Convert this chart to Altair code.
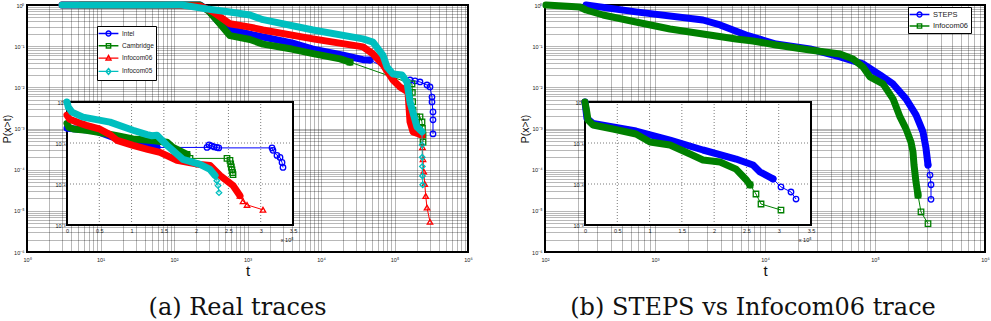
import altair as alt
import pandas as pd

# ---------------------------------------------------------------------------
# Panel (a): CCDF of inter-contact times for four real traces
# ---------------------------------------------------------------------------
A_SERIES = ["Intel", "Cambridge", "Infocom06", "Infocom05"]
A_COLORS = ["#0000ff", "#008000", "#ff0000", "#00bfbf"]
A_MARKERS = ["circle", "square", "triangle-up", "diamond"]

# log-log view: dense part of each curve ("band") and its sparse tail
intel_band_t = [3, 60, 226, 300, 400, 578, 1000, 1625, 4000, 7786, 20000, 37250, 46400]
intel_band_p = [1, 1, 1, 0.72, 0.40, 0.25, 0.20, 0.167, 0.12, 0.085, 0.06, 0.047, 0.046]
intel_tail_t = [46400, 162600, 190100, 222300, 276800, 304000, 323600, 323600, 334000, 334000, 334000]
intel_tail_p = [0.046, 0.0151, 0.0143, 0.0135, 0.0114, 0.0102, 0.0058, 0.00442, 0.00253, 0.00162, 0.00074]

cam_band_t = [5.3, 60, 226, 300, 385, 578, 1081, 1625, 4000, 7786, 18150, 24800]
cam_band_p = [1, 1, 1, 0.7, 0.42, 0.18, 0.145, 0.112, 0.085, 0.066, 0.049, 0.041]
cam_tail_t = [24800, 173000, 175000, 176500, 178600, 178600, 200000, 222300, 236600, 240000, 244300, 244300]
cam_tail_p = [0.041, 0.0121, 0.0075, 0.0045, 0.0028, 0.00191, 0.00191, 0.00191, 0.00145, 0.001, 0.0007, 0.00047]

i06_band_t = [3, 60, 226, 340, 578, 1081, 1625, 7786, 37250, 50940, 69800, 95400, 118900, 152700,
              162600, 178600, 236600]
i06_band_p = [1, 1, 0.95, 0.68, 0.35, 0.29, 0.247, 0.15, 0.096, 0.0647, 0.035, 0.0151, 0.0102, 0.0077,
              0.00145, 0.00083, 0.0007]
i06_tail_t = [236600, 240000, 244300, 250000, 258000, 266000, 276800, 304000]
i06_tail_p = [0.0007, 0.00035, 0.00018, 9e-5, 4.5e-5, 2.3e-5, 1.2e-5, 5.4e-6]

i05_band_t = [3, 128, 226, 281, 578, 1081, 1625, 7786, 37250, 50940, 69800, 79100, 95400, 126500,
              147900, 162600, 202400, 236600]
i05_band_p = [1, 1, 0.85, 0.8, 0.676, 0.572, 0.44, 0.247, 0.15, 0.126, 0.06, 0.0313, 0.0211, 0.02,
              0.0135, 0.0044, 0.00109, 0.00083]
i05_tail_t = [236600, 237500, 238500, 239500, 240500, 242000]
i05_tail_p = [0.00083, 0.0004, 0.0002, 0.00012, 7e-5, 4.3e-5]

# inset: same CCDFs on a linear time axis (x 10^5)
intel_in_band_t = [0, 20000, 43400, 70000, 100000, 139400]
intel_in_band_p = [0.23, 0.215, 0.2, 0.14, 0.1, 0.078]
intel_in_tail_t = [139400, 216800, 220000, 224000, 228000, 232000, 235000, 317500, 319000, 325200,
                   329900, 333000, 334500]
intel_in_tail_p = [0.078, 0.078, 0.09, 0.085, 0.08, 0.078, 0.076, 0.076, 0.0662, 0.0499, 0.0445,
                   0.0336, 0.0253]

cam_in_band_t = [0, 3000, 10000, 30000, 51100, 77400, 102200, 131600, 154900, 164200, 185800]
cam_in_band_p = [0.3, 0.24, 0.22, 0.205, 0.18, 0.15, 0.125, 0.115, 0.104, 0.0784, 0.0528]
cam_in_tail_t = [185800, 190500, 247800, 252400, 253500, 254500, 255500, 256500, 257100]
cam_in_tail_p = [0.0528, 0.0421, 0.0421, 0.0376, 0.031, 0.026, 0.022, 0.019, 0.017]

i06_in_band_t = [0, 4000, 15500, 30000, 51100, 66600, 77400, 102200, 125000, 144000, 170400, 206000,
                 221500, 237000, 257100, 267900]
i06_in_band_p = [0.48, 0.38, 0.323, 0.27, 0.217, 0.16, 0.116, 0.0878, 0.07, 0.059, 0.0376, 0.030,
                 0.0284, 0.0161, 0.00914, 0.0052]
i06_in_tail_t = [267900, 272600, 278800, 303500]
i06_in_tail_p = [0.0052, 0.0038, 0.0031, 0.00235]

i05_in_band_t = [0, 2000, 7700, 24800, 66600, 102200, 123900, 131600, 139400, 154900, 179600, 206000,
                 221500, 229200]
i05_in_band_p = [1, 0.75, 0.568, 0.428, 0.323, 0.205, 0.16, 0.15, 0.155, 0.088, 0.0398, 0.030,
                 0.0226, 0.0161]
i05_in_tail_t = [229200, 232000, 233900, 235400]
i05_in_tail_p = [0.0161, 0.012, 0.00914, 0.00615]

# ---------------------------------------------------------------------------
# Panel (b): STEPS model against the Infocom06 trace
# ---------------------------------------------------------------------------
B_SERIES = ["STEPS", "Infocom06"]
B_COLORS = ["#0000ff", "#008000"]
B_MARKERS = ["circle", "square"]

steps_band_t = [236, 672, 2730, 3900, 7000, 12590, 25650, 48060, 77800, 111000, 145800, 191400,
                235900, 273000, 290000, 303300]
steps_band_p = [1, 0.68, 0.432, 0.327, 0.18, 0.113, 0.0857, 0.0546, 0.037, 0.020, 0.0121, 0.00525,
                0.00215, 0.00083, 0.00035, 0.00013]
steps_tail_t = [303300, 316200, 323000, 323000]
steps_tail_p = [0.00013, 7.4e-5, 4.3e-5, 1.9e-5]

b06_band_t = [102, 208, 236, 337, 672, 1369, 2730, 5450, 7780, 12590, 25650, 48060, 63100, 77800,
              90100, 118300, 145800, 168800, 191400, 212300, 221500, 226300, 235900, 246000]
b06_band_p = [1, 0.894, 0.756, 0.572, 0.387, 0.262, 0.198, 0.150, 0.134, 0.107, 0.0809, 0.0647,
              0.0489, 0.0313, 0.0179, 0.0121, 0.00525, 0.00191, 0.00098, 0.00047, 0.00027, 0.00013,
              5e-5, 2.4e-5]
b06_tail_t = [246000, 262000, 303300]
b06_tail_p = [2.4e-5, 9.4e-6, 4.9e-6]

steps_in_band_t = [0, 3000, 12400, 43400, 79000, 131600, 182700, 233900, 260200, 271000, 291200]
steps_in_band_p = [1, 0.4, 0.3, 0.246, 0.196, 0.118, 0.0675, 0.0407, 0.029, 0.0196, 0.0133]
steps_in_tail_t = [291200, 303500, 319000, 326800]
steps_in_tail_p = [0.0133, 0.0085, 0.00638, 0.0043]

b06_in_band_t = [0, 2500, 4600, 12400, 43400, 79000, 100700, 131600, 162600, 182700, 209100, 233900,
                 250000, 255500]
b06_in_band_p = [1, 0.6, 0.364, 0.275, 0.22, 0.166, 0.106, 0.0893, 0.0539, 0.0385, 0.0344, 0.0231,
                 0.0125, 0.0095]
b06_in_tail_t = [255500, 264800, 272600, 303500]
b06_in_tail_p = [0.0095, 0.0057, 0.00325, 0.00232]

# ---------------------------------------------------------------------------
# Axis ticks and labels
# ---------------------------------------------------------------------------
A_X_MAJOR = [1, 10, 100, 1e3, 1e4, 1e5, 1e6]
A_X_LABELS = ["10\u2070", "10\u00b9", "10\u00b2", "10\u00b3", "10\u2074", "10\u2075", "10\u2076"]
B_X_MAJOR = [100, 1e3, 1e4, 1e5, 1e6]
B_X_LABELS = ["10\u00b2", "10\u00b3", "10\u2074", "10\u2075", "10\u2076"]
Y_MAJOR = [1, 0.1, 0.01, 1e-3, 1e-4, 1e-5, 1e-6]
Y_LABELS = ["10\u2070", "10\u207b\u00b9", "10\u207b\u00b2", "10\u207b\u00b3", "10\u207b\u2074",
            "10\u207b\u2075", "10\u207b\u2076"]
INSET_X_TICKS = [0, 50000, 100000, 150000, 200000, 250000, 300000, 350000]
INSET_X_LABELS = ["0", "0.5", "1", "1.5", "2", "2.5", "3", "3.5"]
INSET_Y_TICKS = [1, 0.1, 0.01, 0.001]
INSET_Y_LABELS = ["10\u2070", "10\u207b\u00b9", "10\u207b\u00b2", "10\u207b\u00b3"]

# legend glyphs: a short line through the series marker
LEGEND_GLYPHS = {
    "circle": "M-2.2,0L2.2,0M0.55,0A0.55,0.55,0,1,1,-0.55,0A0.55,0.55,0,1,1,0.55,0Z",
    "square": "M-2.2,0L2.2,0M-0.48,-0.48L0.48,-0.48L0.48,0.48L-0.48,0.48Z",
    "triangle-up": "M-2.2,0L2.2,0M0,-0.6L0.55,0.42L-0.55,0.42Z",
    "diamond": "M-2.2,0L2.2,0M0,-0.65L0.55,0L0,0.65L-0.55,0Z",
}

W_A, W_B, H = 441, 440, 247
INSET_PX_X = [40, 266]
INSET_PX_Y = [220, 97]


def log_grid(lo_exp, hi_exp):
    vals = []
    for e in range(lo_exp, hi_exp):
        for k in range(1, 10):
            vals.append(float(f"{k}e{e}"))
    vals.append(float(f"1e{hi_exp}"))
    return vals


def label_expr(values, labels):
    parts = []
    for v, lab in zip(values, labels):
        tol = abs(v) * 1e-6 if v else 1e-9
        parts.append(f"abs(datum.value - ({v!r})) < {tol!r} ? '{lab}'")
    return " : ".join(parts) + " : ''"


def frame(pieces):
    rows = []
    for name, part, ts, ps in pieces:
        for i, (t, p) in enumerate(zip(ts, ps)):
            rows.append({"series": name, "part": part, "idx": i, "t": t, "p": p})
    return pd.DataFrame(rows)


TEXT = dict(labelFont="Liberation Sans", labelColor="#222", titleFont="Liberation Sans",
            titleFontWeight="normal", titleColor="#111", ticks=False, domain=False,
            labelFlush=False, labelOverlap=False)
GRID = dict(grid=True, gridColor="#000", gridDash=[1, 1], gridWidth=0.7, gridOpacity=0.8)


def curve_layers(df, series, markers, xs, ys, cs, xa, ya, band_width):
    layers = []
    x = alt.X("t:Q", scale=xs, axis=xa)
    y = alt.Y("p:Q", scale=ys, axis=ya)
    c = alt.Color("series:N", scale=cs, legend=None)
    for name, shape in zip(series, markers):
        sel = alt.Chart(df).transform_filter(alt.datum.series == name)
        band = sel.transform_filter(alt.datum.part == "band")
        tail = sel.transform_filter(alt.datum.part == "tail")
        layers.append(band.mark_line(strokeWidth=band_width, strokeCap="round", strokeJoin="round")
                      .encode(x=x, y=y, color=c, order="idx:Q"))
        layers.append(tail.mark_line(strokeWidth=1).encode(x=x, y=y, color=c, order="idx:Q"))
        layers.append(tail.mark_point(shape=shape, filled=False, size=30, strokeWidth=1.3, opacity=1)
                      .encode(x=x, y=y, color=c))
    return layers


def panel(series, colors, markers, main_df, inset_df, width, x_exp, x_major, x_labels,
          legend_xy, legend_font, legend_row_pad, caption, caption_dx):
    cs = alt.Scale(domain=series, range=colors)
    ss = alt.Scale(domain=series, range=[LEGEND_GLYPHS[m] for m in markers])
    xs = alt.Scale(type="log", domain=[float(f"1e{x_exp[0]}"), float(f"1e{x_exp[1]}")], nice=False)
    ys = alt.Scale(type="log", domain=[1e-6, 1], nice=False)

    # one axis definition per scale, repeated on every layer that uses the scale
    x_axis = alt.Axis(values=log_grid(*x_exp), labelExpr=label_expr(x_major, x_labels),
                      labelFontSize=5.5, labelPadding=5, title="t", titleFontSize=15,
                      titlePadding=1, **TEXT, **GRID)
    y_axis = alt.Axis(values=log_grid(-6, 0), labelExpr=label_expr(Y_MAJOR, Y_LABELS),
                      labelFontSize=5.5, labelPadding=3, title="P(x>t)", titleFontSize=10.5,
                      titlePadding=1, **TEXT, **GRID)

    legend = alt.Legend(title=None, orient="none", legendX=legend_xy[0], legendY=legend_xy[1],
                        fillColor="white", strokeColor="black", padding=2,
                        labelFont="Liberation Sans", labelFontSize=legend_font, labelColor="#222",
                        symbolSize=81, symbolStrokeWidth=1.4, symbolOffset=4, labelOffset=8,
                        rowPadding=legend_row_pad)

    key_layer = alt.Chart(main_df).transform_filter("false").mark_point(
        filled=False, opacity=1, size=81).encode(
        x=alt.X("t:Q", scale=xs, axis=x_axis),
        y=alt.Y("p:Q", scale=ys, axis=y_axis),
        color=alt.Color("series:N", scale=cs, legend=legend),
        shape=alt.Shape("series:N", scale=ss, legend=legend),
    )
    main = alt.layer(key_layer, *curve_layers(main_df, series, markers, xs, ys, cs,
                                              x_axis, y_axis, 7))

    ixs = alt.Scale(type="linear", domain=[INSET_X_TICKS[0], INSET_X_TICKS[-1]],
                    range=INSET_PX_X, nice=False, zero=False)
    iys = alt.Scale(type="log", domain=[INSET_Y_TICKS[-1], INSET_Y_TICKS[0]],
                    range=INSET_PX_Y, nice=False)
    ix_axis = alt.Axis(orient="bottom", offset=-(H - INSET_PX_Y[0]), values=INSET_X_TICKS,
                       labelExpr=label_expr(INSET_X_TICKS, INSET_X_LABELS), labelFontSize=5.5,
                       labelPadding=3, grid=False, title="x 10\u2075", titleFontSize=5.5,
                       titleAnchor="end", titleAlign="right", titlePadding=4, **TEXT)
    iy_axis = alt.Axis(orient="left", offset=-INSET_PX_X[0], values=INSET_Y_TICKS,
                       labelExpr=label_expr(INSET_Y_TICKS, INSET_Y_LABELS), labelFontSize=5.5,
                       labelPadding=2, grid=False, title=None, **TEXT)

    box_df = pd.DataFrame({"t": [INSET_X_TICKS[0]], "t1": [INSET_X_TICKS[-1]],
                           "p": [INSET_Y_TICKS[-1]], "p1": [INSET_Y_TICKS[0]]})
    box = alt.Chart(box_df).mark_rect(fill="white", stroke="black", strokeWidth=2).encode(
        x=alt.X("t:Q", scale=ixs, axis=ix_axis), x2="t1:Q",
        y=alt.Y("p:Q", scale=iys, axis=iy_axis), y2="p1:Q",
    )
    vgrid_df = pd.DataFrame({"t": INSET_X_TICKS[1:-1], "p": INSET_Y_TICKS[-1], "p1": INSET_Y_TICKS[0]})
    hgrid_df = pd.DataFrame({"p": INSET_Y_TICKS[1:-1], "t": INSET_X_TICKS[0], "t1": INSET_X_TICKS[-1]})
    gstyle = dict(color="#000", strokeDash=[1, 2], strokeWidth=0.7, opacity=0.75)
    vgrid = alt.Chart(vgrid_df).mark_rule(**gstyle).encode(
        x=alt.X("t:Q", scale=ixs, axis=ix_axis), y=alt.Y("p:Q", scale=iys, axis=iy_axis), y2="p1:Q")
    hgrid = alt.Chart(hgrid_df).mark_rule(**gstyle).encode(
        y=alt.Y("p:Q", scale=iys, axis=iy_axis), x=alt.X("t:Q", scale=ixs, axis=ix_axis), x2="t1:Q")
    inset = alt.layer(box, vgrid, hgrid, *curve_layers(inset_df, series, markers, ixs, iys, cs,
                                                        ix_axis, iy_axis, 7))

    return alt.layer(main, inset).resolve_scale(x="independent", y="independent").properties(
        width=width, height=H,
        title=alt.TitleParams(caption, orient="bottom", anchor="middle", font="DejaVu Serif",
                              fontSize=24, fontWeight="normal", color="#111", dx=caption_dx,
                              offset=17),
    )


a_main = frame([
    ("Intel", "band", intel_band_t, intel_band_p), ("Intel", "tail", intel_tail_t, intel_tail_p),
    ("Cambridge", "band", cam_band_t, cam_band_p), ("Cambridge", "tail", cam_tail_t, cam_tail_p),
    ("Infocom06", "band", i06_band_t, i06_band_p), ("Infocom06", "tail", i06_tail_t, i06_tail_p),
    ("Infocom05", "band", i05_band_t, i05_band_p), ("Infocom05", "tail", i05_tail_t, i05_tail_p),
])
a_inset = frame([
    ("Intel", "band", intel_in_band_t, intel_in_band_p), ("Intel", "tail", intel_in_tail_t, intel_in_tail_p),
    ("Cambridge", "band", cam_in_band_t, cam_in_band_p), ("Cambridge", "tail", cam_in_tail_t, cam_in_tail_p),
    ("Infocom06", "band", i06_in_band_t, i06_in_band_p), ("Infocom06", "tail", i06_in_tail_t, i06_in_tail_p),
    ("Infocom05", "band", i05_in_band_t, i05_in_band_p), ("Infocom05", "tail", i05_in_tail_t, i05_in_tail_p),
])
b_main = frame([
    ("STEPS", "band", steps_band_t, steps_band_p), ("STEPS", "tail", steps_tail_t, steps_tail_p),
    ("Infocom06", "band", b06_band_t, b06_band_p), ("Infocom06", "tail", b06_tail_t, b06_tail_p),
])
b_inset = frame([
    ("STEPS", "band", steps_in_band_t, steps_in_band_p), ("STEPS", "tail", steps_in_tail_t, steps_in_tail_p),
    ("Infocom06", "band", b06_in_band_t, b06_in_band_p), ("Infocom06", "tail", b06_in_tail_t, b06_in_tail_p),
])

panel_a = panel(A_SERIES, A_COLORS, A_MARKERS, a_main, a_inset, W_A, (0, 6), A_X_MAJOR, A_X_LABELS,
                (70, 21), 6.5, 1.3, "(a) Real traces", -10)
panel_b = panel(B_SERIES, B_COLORS, B_MARKERS, b_main, b_inset, W_B, (2, 6), B_X_MAJOR, B_X_LABELS,
                (363, 2), 7.5, 0.5, "(b) STEPS vs Infocom06 trace", -12)

chart = alt.hconcat(panel_a, panel_b, spacing=45).resolve_scale(
    color="independent", shape="independent"
).configure_view(stroke="black", strokeWidth=2).properties(
    padding={"left": 1, "top": 0, "right": 0, "bottom": 0}, background="white"
)

chart.save("out.html", embed_options={"renderer": "svg", "actions": False})
